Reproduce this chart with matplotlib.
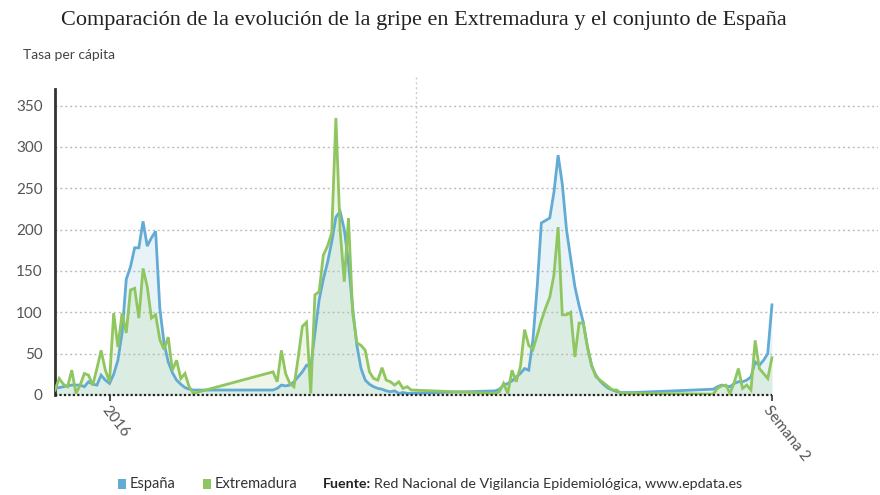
import numpy as np
import matplotlib
matplotlib.use("Agg")
import matplotlib.pyplot as plt
from matplotlib.patches import Rectangle

# weekly flu rate, week 40 to week 20 of each season (x = weeks since 2015-W40)
season_start = [0, 52, 105, 157]

espana_s1 = [8, 9, 10, 11, 12, 12, 12, 10, 16, 13, 12, 24, 18, 14, 25, 42, 75, 140, 155, 178,
             178, 210, 180, 190, 198, 105, 63, 40, 27, 18, 13, 9, 7, 6]
espana_s2 = [6, 8, 12, 11, 12, 16, 22, 28, 36, 34, 75, 115, 140, 160, 185, 215, 222, 200, 160, 105,
             60, 32, 18, 13, 10, 8, 7, 5, 4, 5, 2, 3, 2, 2]
espana_s3 = [5, 7, 12, 14, 17, 22, 26, 32, 30, 67, 130, 208, 211, 214, 245, 290, 255, 200, 165, 131,
             108, 88, 58, 35, 24, 17, 12, 8, 6, 4, 3, 3, 3, 3]
espana_s4 = [7, 10, 12, 11, 10, 14, 16, 16, 18, 22, 40, 36, 42, 50, 109]

extremadura_s1 = [6, 20, 13, 10, 30, 2, 12, 26, 24, 12, 32, 54, 30, 16, 99, 58, 99, 75, 127, 129,
                  93, 153, 131, 93, 97, 67, 55, 70, 30, 42, 20, 26, 10, 2]
extremadura_s2 = [28, 16, 54, 26, 14, 10, 45, 83, 88, 2, 121, 125, 169, 180, 196, 335, 200, 137, 214, 99,
                  63, 60, 54, 28, 20, 18, 33, 18, 16, 12, 16, 8, 10, 6]
extremadura_s3 = [2, 4, 14, 2, 30, 16, 34, 79, 60, 55, 72, 90, 105, 118, 145, 203, 97, 97, 100, 46,
                  87, 87, 58, 36, 22, 18, 14, 10, 6, 6, 2, 2, 2, 2]
extremadura_s4 = [1, 8, 11, 12, 2, 15, 32, 8, 12, 6, 66, 32, 26, 20, 45]

tick_weeks = [13, 171]
tick_labels = ["2016", "Semana 2"]
y_ticks = [0, 50, 100, 150, 200, 250, 300, 350]
marker_week = 86

TITLE = "Comparación de la evolución de la gripe en Extremadura y el conjunto de España"
SOURCE = "Red Nacional de Vigilancia Epidemiológica, www.epdata.es"
BLUE = "#62abd4"
GREEN = "#8fc65f"

plt.rcParams["font.family"] = ["Lato", "DejaVu Sans"]


def build(seasons):
    xs = np.concatenate([s + np.arange(len(v)) for s, v in zip(season_start, seasons)])
    ys = np.concatenate([np.asarray(v, dtype=float) for v in seasons])
    return xs, ys


x_es, y_es = build([espana_s1, espana_s2, espana_s3, espana_s4])
x_ex, y_ex = build([extremadura_s1, extremadura_s2, extremadura_s3, extremadura_s4])

W, H = 880, 495
fig = plt.figure(figsize=(W / 100, H / 100), dpi=100)


def fx(px):
    return px / W


def fy(py):
    return 1 - py / H


ax = fig.add_axes([fx(55), fy(395), fx(878) - fx(55), fy(89) - fy(395)])
ax.set_xlim(0, 196.3)
ax.set_ylim(0, 370)

ax.fill_between(x_es, y_es, color=BLUE, alpha=0.14, lw=0)
ax.fill_between(x_ex, y_ex, color=GREEN, alpha=0.14, lw=0)
ax.plot(x_es, y_es, color=BLUE, lw=2, solid_joinstyle="miter", zorder=4)
ax.plot(x_ex, y_ex, color=GREEN, lw=2, solid_joinstyle="miter", zorder=5)

for v in y_ticks[1:]:
    ax.axhline(v, color="#bdbdbd", lw=1, ls=(0, (1.5, 2)), zorder=1)
ax.plot([0, x_es.max()], [0, 0], color="#222222", lw=1.6, ls=(0, (1, 1)), zorder=6, clip_on=False)
ax.plot([marker_week, marker_week], [0, 387], color="#cccccc", lw=1, ls=(0, (1.5, 2)),
        zorder=1, clip_on=False)

for side in ("top", "right", "bottom"):
    ax.spines[side].set_visible(False)
ax.spines["left"].set_color("#333333")
ax.spines["left"].set_linewidth(2)

ax.set_yticks(y_ticks)
ax.set_yticklabels([str(v) for v in y_ticks])
ax.tick_params(axis="y", length=0, pad=9, labelsize=11, labelcolor="#555555")
ax.set_xticks(tick_weeks)
ax.set_xticklabels(tick_labels)
ax.tick_params(axis="x", length=4, width=1.2, color="#333333", pad=2,
               labelsize=11, labelcolor="#555555")
for lab in ax.get_xticklabels():
    lab.set_rotation(-52)
    lab.set_ha("left")
    lab.set_va("top")
    lab.set_rotation_mode("anchor")

fig.text(fx(424), fy(20), TITLE, ha="center", va="center", fontsize=16,
         family=["Liberation Serif", "DejaVu Serif"], color="#222222")
fig.text(fx(23), fy(55), "Tasa per cápita", ha="left", va="center", fontsize=10,
         color="#444444")

# legend / source line
ly = 484
for px, col, label in [(118, BLUE, "España"), (203, GREEN, "Extremadura")]:
    fig.patches.append(Rectangle((fx(px), fy(ly + 5)), fx(8), 10 / H, transform=fig.transFigure,
                                 color=col, lw=0))
    fig.text(fx(px + 12), fy(ly), label, ha="left", va="center", fontsize=10.5, color="#333333")
src_bold = fig.text(fx(323), fy(ly), "Fuente:", ha="left", va="center", fontsize=10.3,
                    color="#222222", weight="bold")
fig.canvas.draw()
bb = src_bold.get_window_extent()
fig.text((bb.x1 + 3) / W, fy(ly), SOURCE, ha="left", va="center", fontsize=10.3, color="#333333")

fig.savefig("out.png", dpi=100, facecolor="white")
